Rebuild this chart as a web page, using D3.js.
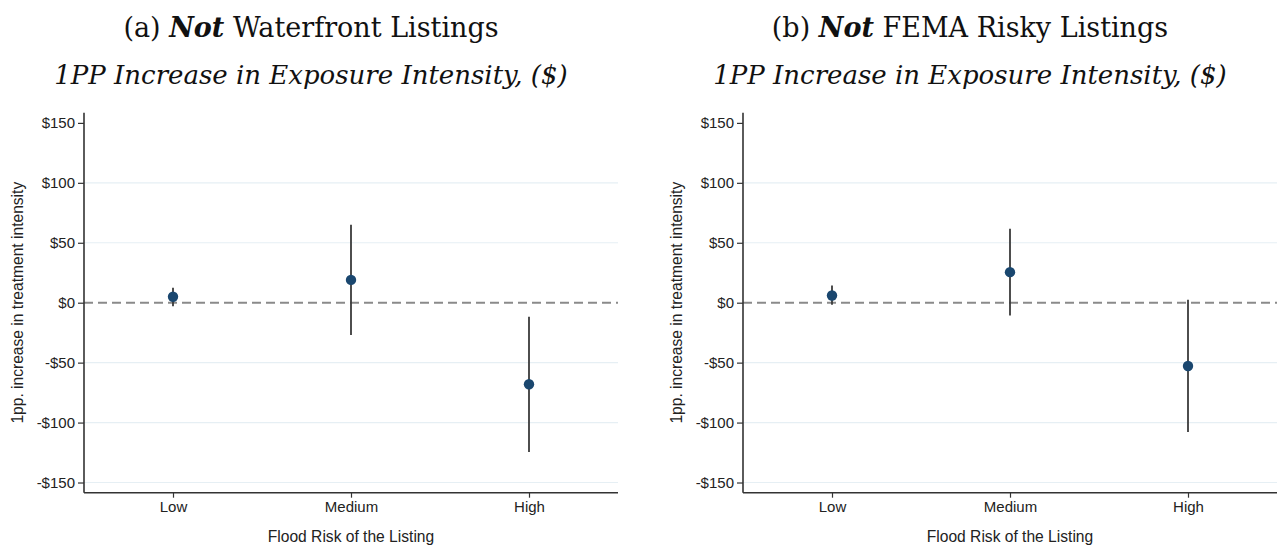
<!DOCTYPE html>
<html>
<head>
<meta charset="utf-8">
<script src="https://cdn.jsdelivr.net/npm/d3@7"></script>
<style>
  body { margin: 0; background: #fff; }
  svg { display: block; }
  .tick text { font-family: "Liberation Sans", Arial, sans-serif; font-size: 15px; fill: #222; }
</style>
</head>
<body>
<div id="chart"></div>
<script>
// Data
const categories = ["Low", "Medium", "High"];
const yTicks = [-150, -100, -50, 0, 50, 100, 150];
const gridTicks = [-150, -100, -50, 50, 100];

const waterfrontEst = [5, 19, -68];
const waterfrontLo = [-3, -27, -124.5];
const waterfrontHi = [12.5, 65, -11.7];

const femaEst = [6, 25.5, -52.8];
const femaLo = [-1.7, -10.6, -107.8];
const femaHi = [14.4, 61.7, 2.5];

const panelTags = ["(a)", "(b)"];
const panelNames = ["Waterfront Listings", "FEMA Risky Listings"];
const subtitle = "1PP Increase in Exposure Intensity, ($)";
const yTitle = "1pp. increase in treatment intensity";
const xTitle = "Flood Risk of the Listing";

const width = 1278;
const height = 546;

const svg = d3.select("#chart")
  .append("svg")
  .attr("width", width)
  .attr("height", height);

const fmt = d => d < 0 ? "-$" + (-d) : "$" + d;

function drawPanel(offsetX, tag, name, est, lo, hi) {
  const g = svg.append("g").attr("transform", `translate(${offsetX},0)`);

  const x = d3.scalePoint()
    .domain(categories)
    .range([84, 618])
    .padding(0.5);

  const y = d3.scaleLinear()
    .domain([-158.5, 158.5])
    .range([492.7, 112.7]);

  // Titles
  const title = g.append("text")
    .attr("x", 311)
    .attr("y", 37)
    .attr("text-anchor", "middle")
    .attr("font-family", "'DejaVu Serif', serif")
    .attr("font-size", 27)
    .attr("fill", "#111");
  title.append("tspan").text(tag + " ");
  title.append("tspan").attr("font-weight", "bold").attr("font-style", "italic").text("Not");
  title.append("tspan").text(" " + name);

  g.append("text")
    .attr("x", 311)
    .attr("y", 84)
    .attr("text-anchor", "middle")
    .attr("font-family", "'DejaVu Serif', serif")
    .attr("font-style", "italic")
    .attr("font-size", 26)
    .attr("fill", "#111")
    .text(subtitle);

  // Grid
  g.append("g")
    .selectAll("line")
    .data(gridTicks)
    .enter()
    .append("line")
    .attr("x1", 84)
    .attr("x2", 618)
    .attr("y1", d => y(d))
    .attr("y2", d => y(d))
    .attr("stroke", "#e6eff4")
    .attr("stroke-width", 1.2);

  // Zero reference line
  g.append("line")
    .attr("x1", 84)
    .attr("x2", 618)
    .attr("y1", y(0))
    .attr("y2", y(0))
    .attr("stroke", "#8a8a8a")
    .attr("stroke-width", 2)
    .attr("stroke-dasharray", "9,5");

  // Axes
  const yAxis = g.append("g")
    .attr("transform", "translate(84,0)")
    .call(d3.axisLeft(y).tickValues(yTicks).tickFormat(fmt).tickSize(6).tickPadding(3));
  yAxis.select(".domain").attr("d", `M0,${y.range()[0]}V${y.range()[1]}`);

  const xAxis = g.append("g")
    .attr("transform", `translate(0,${y.range()[0]})`)
    .call(d3.axisBottom(x).tickSize(5).tickPadding(4));
  xAxis.select(".domain").attr("d", "M84,0H618");

  for (const axis of [xAxis, yAxis]) {
    axis.select(".domain").attr("stroke", "#333").attr("stroke-width", 1.6);
    axis.selectAll(".tick line").attr("stroke", "#333").attr("stroke-width", 1.2);
  }

  g.append("text")
    .attr("transform", `translate(23,${y(0)}) rotate(-90)`)
    .attr("text-anchor", "middle")
    .attr("font-family", "'Liberation Sans', Arial, sans-serif")
    .attr("font-size", 15.6)
    .attr("fill", "#222")
    .text(yTitle);

  g.append("text")
    .attr("x", x("Medium"))
    .attr("y", 542)
    .attr("text-anchor", "middle")
    .attr("font-family", "'Liberation Sans', Arial, sans-serif")
    .attr("font-size", 15.6)
    .attr("fill", "#222")
    .text(xTitle);

  // Confidence intervals
  const rows = categories.map((c, i) => ({ c, est: est[i], lo: lo[i], hi: hi[i] }));

  g.append("g")
    .selectAll("line")
    .data(rows)
    .enter()
    .append("line")
    .attr("x1", d => x(d.c))
    .attr("x2", d => x(d.c))
    .attr("y1", d => y(d.lo))
    .attr("y2", d => y(d.hi))
    .attr("stroke", "#3a3a3a")
    .attr("stroke-width", 1.8);

  // Point estimates
  g.append("g")
    .selectAll("circle")
    .data(rows)
    .enter()
    .append("circle")
    .attr("cx", d => x(d.c))
    .attr("cy", d => y(d.est))
    .attr("r", 5.2)
    .attr("fill", "#1a476f");
}

drawPanel(0, panelTags[0], panelNames[0], waterfrontEst, waterfrontLo, waterfrontHi);
drawPanel(659, panelTags[1], panelNames[1], femaEst, femaLo, femaHi);
</script>
</body>
</html>
